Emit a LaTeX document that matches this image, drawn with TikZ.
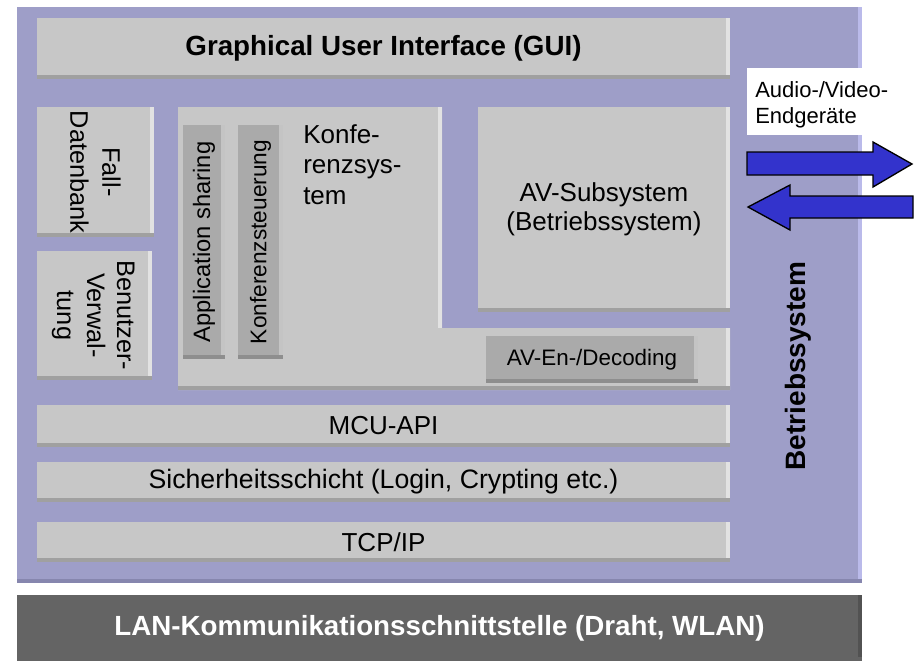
\documentclass[tikz,border=0pt]{standalone}
\usepackage{fontspec}
\setmainfont{Liberation Sans}
\definecolor{face}{RGB}{199,199,199}
\definecolor{bevlight}{RGB}{226,226,226}
\definecolor{bevdark}{RGB}{160,160,160}
\definecolor{innerfill}{RGB}{170,170,170}
\definecolor{innerdark}{RGB}{142,142,142}
\definecolor{osfill}{RGB}{158,158,200}
\definecolor{oslight}{RGB}{186,186,234}
\definecolor{osdark}{RGB}{134,134,174}
\definecolor{lanfill}{RGB}{100,100,100}
\definecolor{landark}{RGB}{82,82,82}
\definecolor{arrowblue}{RGB}{51,51,204}
\newcommand\panel[7]{\node[#6, anchor=north west, inner sep=0pt, outer sep=0pt,
  minimum width={(#4-#2)*0.75pt}, minimum height={(#5-#3)*0.75pt}] (#1) at (#2,#3) {#7};}
\tikzset{
  bevel/.style n args={3}{fill=#1, path picture={
    \fill[#2] ([xshift=-3pt]path picture bounding box.north east) rectangle (path picture bounding box.south east);
    \fill[#3] (path picture bounding box.south west) rectangle ([yshift=3pt]path picture bounding box.south east);}},
  facebox/.style={bevel={face}{bevlight}{bevdark}, font=\fontsize{19.5}{22}\selectfont},
  darkbox/.style={bevel={innerfill}{innerfill!70!white}{innerdark}, font=\fontsize{16.8}{20}\selectfont},
  osbox/.style={bevel={osfill}{oslight}{osdark}},
  lanbox/.style={bevel={lanfill}{landark}{lanfill}},
  rottext/.style={inner sep=0pt, align=center},
  blockarrow/.style={fill=arrowblue, draw=black, line width=1pt, line join=miter},
}
\begin{document}
\begin{tikzpicture}[x=0.75pt,y=-0.75pt]
\useasboundingbox (0,0) rectangle (914,661);
% outer operating-system frame
\panel{os}{17}{7}{862}{583}{osbox}{}
\panel{avbg}{747}{68}{866}{135}{fill=white}{}
% GUI
\panel{gui}{37}{18}{730}{79}{facebox, font=\fontsize{20.8}{24}\selectfont\bfseries}{Graphical User Interface (GUI)}
% left column
\panel{fdb}{37}{107}{154}{237}{facebox}{}
\node[rottext, rotate=-90, font=\fontsize{19}{24}\selectfont] (fdbt) at (fdb.center) {Fall-\\Datenbank};
\panel{bv}{37}{251}{152}{380}{facebox}{}
\node[rottext, rotate=-90, font=\fontsize{19}{22.5}\selectfont] (bvt) at ([xshift=-1pt]bv.center) {Benutzer-\\Verwal-\\tung};
% Konferenzsystem (L-shape)
\fill[face] (178,107) -- (442,107) -- (442,328) -- (730,328) -- (730,390) -- (178,390) -- cycle;
\fill[bevlight] (438,107) rectangle (442,328);
\fill[bevlight] (726,328) rectangle (730,390);
\fill[bevdark] (178,386) rectangle (730,390);
\node[anchor=north west, inner sep=0pt, align=left, font=\fontsize{19.5}{23}\selectfont] (konf) at (303,124) {Konfe-\\renzsys-\\tem};
\panel{appsh}{183}{125}{225}{359}{darkbox}{}
\node[rottext, rotate=90, font=\fontsize{17.8}{20}\selectfont] (appsht) at (appsh.center) {Application sharing};
\panel{konfst}{238}{125}{283}{359}{darkbox}{}
\node[rottext, rotate=90, font=\fontsize{17}{20}\selectfont] (konfstt) at (konfst.center) {Konferenzsteuerung};
\panel{avcod}{486}{336}{698}{383}{darkbox}{AV-En-/Decoding}
% AV subsystem
\panel{avs}{478}{107}{730}{312}{facebox, align=center, font=\fontsize{19.5}{21.75}\selectfont}{AV-Subsystem\\(Betriebssystem)}
% layers
\panel{mcu}{37}{405}{730}{447}{facebox}{MCU-API}
\panel{sec}{37}{462}{730}{502}{facebox, font=\fontsize{20}{24}\selectfont}{Sicherheitsschicht (Login, Crypting etc.)}
\panel{tcp}{37}{522}{730}{562}{facebox}{TCP/IP}
% Betriebssystem label
\node[rottext, rotate=90, font=\fontsize{21}{24}\selectfont\bfseries] (ost) at (798,366) {Betriebssystem};
% LAN bar
\panel{lan}{17}{595}{862}{661}{lanbox, text=white, font=\fontsize{20.8}{24}\selectfont\bfseries}{LAN-Kommunikationsschnittstelle (Draht, WLAN)}
% Audio/Video label and arrows
\node[anchor=north west, inner sep=0pt, align=left, font=\fontsize{16.5}{20}\selectfont] (avt) at (755,81) {Audio-/Video-\\Endgeräte};
\draw[blockarrow] (747,152) -- (873,152) -- (873,142) -- (912,164) -- (873,187) -- (873,175) -- (747,175) -- cycle;
\draw[blockarrow] (913,196) -- (790,196) -- (790,185) -- (748,207) -- (790,230) -- (790,218) -- (913,218) -- cycle;
\end{tikzpicture}
\end{document}
